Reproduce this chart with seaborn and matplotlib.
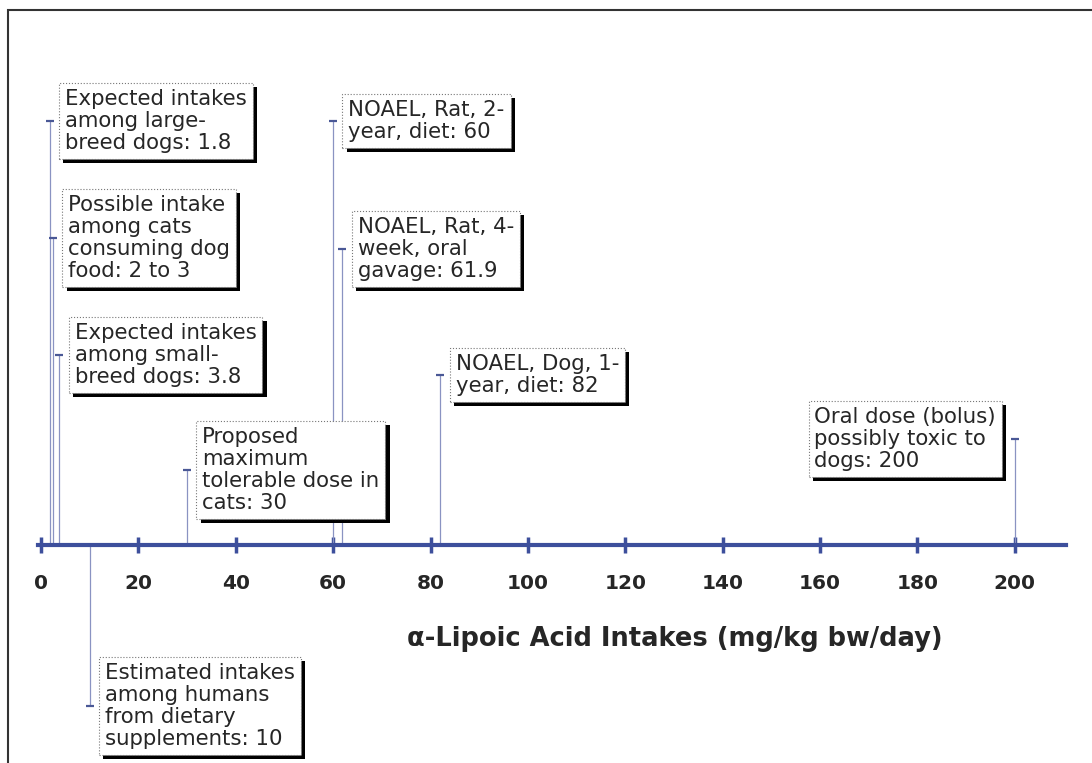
import pandas as pd
import matplotlib
matplotlib.use("Agg")
import matplotlib.pyplot as plt
import matplotlib.patheffects as pe
from matplotlib.patches import Rectangle
import seaborn as sns

# --- data ---
doses = [1.8, 2.5, 3.8, 10, 30, 60, 61.9, 82, 200]
# height of each stem above (or below) the dose axis, arbitrary units
heights = [42.4, 30.7, 19.0, -16.1, 7.5, 42.4, 29.6, 17.0, 10.6]
labels = [
    "Expected intakes\namong large-\nbreed dogs: 1.8",
    "Possible intake\namong cats\nconsuming dog\nfood: 2 to 3",
    "Expected intakes\namong small-\nbreed dogs: 3.8",
    "Estimated intakes\namong humans\nfrom dietary\nsupplements: 10",
    "Proposed\nmaximum\ntolerable dose in\ncats: 30",
    "NOAEL, Rat, 2-\nyear, diet: 60",
    "NOAEL, Rat, 4-\nweek, oral\ngavage: 61.9",
    "NOAEL, Dog, 1-\nyear, diet: 82",
    "Oral dose (bolus)\npossibly toxic to\ndogs: 200",
]
xticks = [0, 20, 40, 60, 80, 100, 120, 140, 160, 180, 200]
xlabel = "α-Lipoic Acid Intakes (mg/kg bw/day)"

df = pd.DataFrame({"dose": doses, "height": heights, "label": labels})

# --- style ---
sns.set_theme(style="white")
plt.rcParams["font.family"] = ["DejaVu Sans"]

axis_blue = "#3d4f9c"
stem_blue = "#8a93c2"
cap_blue = "#4a5896"
text_col = "#262626"

W, H = 1092, 763
fig = plt.figure(figsize=(W / 100, H / 100), dpi=100)
ax = fig.add_axes([38 / W, 0, 1028 / W, 1])
ax.set_facecolor("none")
ax.set_xlim(-0.6, 210.5)
ax.set_ylim(-(H - 545) / 10, 545 / 10)

# stems and caps
ax.vlines(df["dose"], 0, df["height"], color=stem_blue, lw=0.9, zorder=1)
sns.scatterplot(data=df, x="dose", y="height", marker="_", s=30,
                color=cap_blue, linewidth=1.6, ax=ax, zorder=2, legend=False)

# label boxes with drop shadow
for _, r in df.iterrows():
    left_side = r["dose"] == df["dose"].max()
    t = ax.annotate(
        r["label"], xy=(r["dose"], r["height"]),
        xytext=(-13.5 if left_side else 11, 0), textcoords="offset points",
        ha="right" if left_side else "left", va="center", multialignment="left",
        fontsize=15.3, color=text_col, linespacing=1.13, zorder=3,
        bbox=dict(boxstyle="square,pad=0.28", fc="white", ec="#777777",
                  lw=0.8, ls=":"),
    )
    t.get_bbox_patch().set_path_effects(
        [pe.withSimplePatchShadow(offset=(3, -3), shadow_rgbFace="black", alpha=1)]
    )

# dose axis drawn as the bottom spine at height 0
for s in ["top", "left", "right"]:
    ax.spines[s].set_visible(False)
ax.spines["bottom"].set_position(("data", 0))
ax.spines["bottom"].set_color(axis_blue)
ax.spines["bottom"].set_linewidth(3)
ax.set_yticks([])
ax.set_xticks(xticks)
ax.set_xticklabels([str(v) for v in xticks], fontsize=14.5, fontweight="bold",
                   color=text_col)
ax.tick_params(axis="x", direction="inout", length=12, width=2.5,
               color=axis_blue, pad=15, bottom=True)
ax.set_ylabel("")
ax.set_xlabel(xlabel, fontsize=18.5, fontweight="bold", color=text_col)
ax.xaxis.set_label_coords((675 - 38) / 1028, (H - 626) / H)

# outer frame (cut off at right and bottom in the original)
fig.add_artist(Rectangle((8 / W, -0.1), 1.2, 1.1 - 10 / H, transform=fig.transFigure,
                         fill=False, ec="#333333", lw=1.5, clip_on=False))

fig.savefig("out.png", dpi=100, facecolor="white")
